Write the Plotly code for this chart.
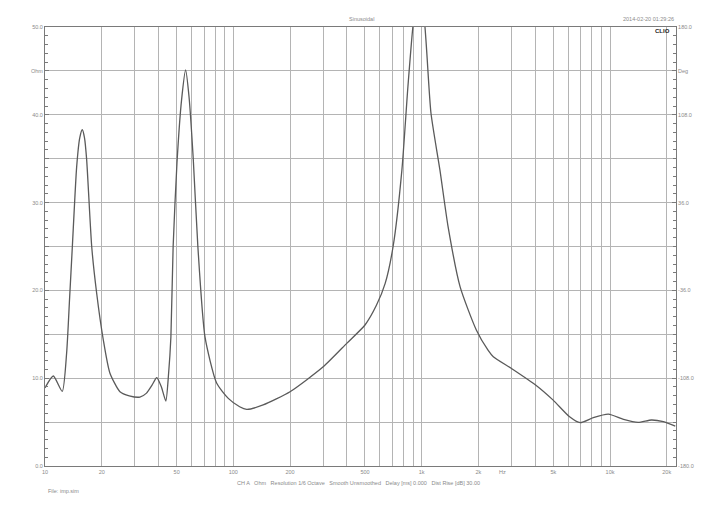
import numpy as np
import plotly.graph_objects as go

# Impedance curve (frequency in Hz, impedance in Ohm)
freq_hz = [10, 11.07, 12.35, 13.03, 13.5, 13.97, 14.73, 15.3, 15.77, 16.2, 16.64, 17.7, 18.8, 20.4, 22.1, 25.0,
           28.0, 31.9, 34.6, 37.0, 39.2, 41.5, 43.8, 45.3, 46.6, 47.9, 50.2, 53.1, 55.8, 58.2, 61.3, 64.8, 70.7,
           81.5, 94, 108, 117.7, 144, 200, 300, 400, 500, 575, 640, 705, 785, 845, 903, 960, 1030,
           1120, 1250, 1380, 1600, 1950, 2250, 2400, 3000, 4040, 4990, 6100, 6940, 8150,
           9800, 11800, 14100, 16600, 19200, 22200]
impedance_ohm = [8.9, 10.25, 8.5, 12.9, 19.0, 25.0, 34.1, 37.4, 38.3, 37.4, 34.9, 25.0, 19.7, 14.35, 10.6, 8.46,
                 8.0, 7.85, 8.3, 9.2, 10.06, 9.0, 7.4, 10.5, 14.7, 25.0, 34.5, 41.7, 45.1, 42.0, 34.85, 25.0, 14.7,
                 9.45, 7.7, 6.75, 6.45, 6.95, 8.46, 11.3, 13.97, 16.06, 18.3, 20.8, 25.0, 33.7, 43.2, 50.5, 54.0, 51.0,
                 40.2, 33.7, 27.3, 20.4, 15.5, 13.2, 12.45, 11.1, 9.2, 7.5, 5.6, 4.93, 5.5,
                 5.9, 5.3, 4.97, 5.24, 5.05, 4.55]

# Axis ticks
x_grid = [v * 10 ** d for d in range(1, 5) for v in range(1, 10)] + [20000]
x_labels = {10: "10", 20: "20", 50: "50", 100: "100", 200: "200", 500: "500", 1000: "1k",
            2000: "2k", 5000: "5k", 10000: "10k", 20000: "20k"}
y_grid = list(range(0, 55, 5))
y_labels = {0: "0.0", 10: "10.0", 20: "20.0", 30: "30.0", 40: "40.0", 45: "Ohm", 50: "50.0"}
y2_vals = [-180, -108, -36, 36, 108, 144, 180]
y2_text = ["-180.0", "-108.0", "-36.0", "36.0", "108.0", "Deg", "180.0"]

title_text = "Sinusoidal"
date_text = "2014-02-20 01:29:26"
footer_text = "CH A   Ohm   Resolution 1/6 Octave   Smooth Unsmoothed   Delay [ms] 0.000   Dist Rise [dB] 30.00"
file_text = "File: imp.sim"

FONT = "Liberation Sans, Arial, sans-serif"
TXT = "#8a8a8a"
GRID = "#b4b4b4"
AX = "#7a7a7a"

# page body has an 8px margin; compensate so the plot lands at the reference pixels
OFF = 8
W, H = 708 - OFF, 507 - OFF
L, T, R, B = 45 - OFF, 27 - OFF, W - (676 - OFF), H - (466 - OFF)

fig = go.Figure()
fig.add_trace(go.Scatter(x=freq_hz, y=impedance_ohm, mode="lines",
                         line=dict(color="#5a5a5a", width=1.3, shape="spline", smoothing=0.6),
                         hoverinfo="skip", showlegend=False))
fig.add_trace(go.Scatter(x=[10], y=[0], yaxis="y2", mode="markers",
                         marker=dict(opacity=0), hoverinfo="skip", showlegend=False))

fig.update_layout(
    width=W, height=H,
    margin=dict(l=L, r=R, t=T, b=B, autoexpand=False),
    paper_bgcolor="white", plot_bgcolor="white",
    font=dict(family=FONT, size=5.5, color=TXT),
    xaxis=dict(type="log", range=[1, np.log10(22400)],
               tickmode="array", tickvals=x_grid,
               ticktext=[x_labels.get(v, "") for v in x_grid],
               showgrid=True, gridcolor=GRID, gridwidth=1,
               showline=True, linecolor=AX, linewidth=1, mirror=True,
               ticks="", zeroline=False, tickfont=dict(size=5.5, color=TXT)),
    yaxis=dict(range=[0, 50], tickmode="array", tickvals=y_grid,
               ticktext=[y_labels.get(v, "") for v in y_grid],
               showgrid=True, gridcolor=GRID, gridwidth=1,
               showline=True, linecolor=AX, linewidth=1,
               ticks="inside", ticklen=4, tickcolor=AX,
               minor=dict(tickmode="linear", tick0=0, dtick=1, ticks="inside",
                          ticklen=3, tickcolor=AX, showgrid=False),
               zeroline=False, tickfont=dict(size=5.5, color=TXT)),
    yaxis2=dict(range=[-180, 180], overlaying="y", side="right",
                tickmode="array", tickvals=y2_vals, ticktext=y2_text,
                showgrid=False, showline=True, linecolor=AX, linewidth=1,
                ticks="inside", ticklen=4, tickcolor=AX,
                minor=dict(tickmode="linear", tick0=-180, dtick=7.2, ticks="inside",
                           ticklen=3, tickcolor=AX, showgrid=False),
                zeroline=False, tickfont=dict(size=5.5, color=TXT)),
)

pw, ph = W - L - R, H - T - B
def px(x):
    return (x - OFF - L) / pw
def py(y):
    return (H - B - (y - OFF)) / ph

fig.layout.annotations = [
    dict(text=title_text, x=px(361), y=py(19), xref="paper", yref="paper", showarrow=False,
         xanchor="center", yanchor="middle"),
    dict(text=date_text, x=px(676), y=py(19), xref="paper", yref="paper", showarrow=False,
         xanchor="right", yanchor="middle"),
    dict(text="<b>CLIO</b>", x=px(672), y=py(31), xref="paper", yref="paper", showarrow=False,
         xanchor="right", yanchor="middle", font=dict(size=6, color="#222")),
    dict(text="Hz", x=np.log10(2700), y=py(472), xref="x", yref="paper", showarrow=False,
         xanchor="center", yanchor="middle"),
    dict(text=footer_text, x=px(358), y=py(483), xref="paper", yref="paper", showarrow=False,
         xanchor="center", yanchor="middle"),
    dict(text=file_text, x=px(46), y=py(491), xref="paper", yref="paper", showarrow=False,
         xanchor="left", yanchor="middle"),
]

fig.write_html("out.html")
